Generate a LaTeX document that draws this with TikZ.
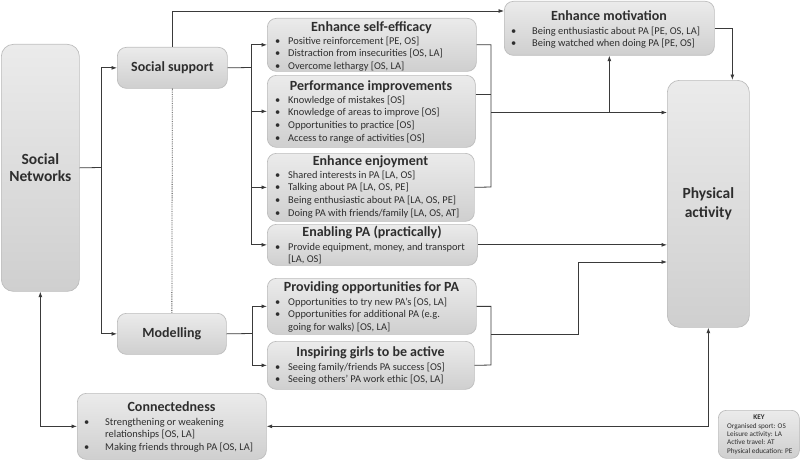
\documentclass[tikz,border=0pt]{standalone}
\usepackage{fontspec}
\setmainfont{Carlito}
\usetikzlibrary{arrows.meta,calc}
\definecolor{boxtop}{HTML}{EBEBEB}
\definecolor{boxbot}{HTML}{CFCFCF}
\definecolor{boxline}{HTML}{BDBDBD}
\definecolor{ink}{HTML}{2E2E2E}
\definecolor{wirec}{HTML}{3A3A3A}
\newcommand{\bl}[2][13pt]{\strut\makebox[#1][l]{\textbullet}#2}
\newcommand{\cl}[2][13pt]{\strut\hspace*{#1}#2}
\begin{document}
\begin{tikzpicture}[x=1pt,y=-1pt,
  box/.style={draw=boxline, line width=0.7pt, rounded corners=9pt, top color=boxtop, bottom color=boxbot, inner sep=0pt, anchor=north west},
  ttl/.style={font=\fontsize{14}{16}\selectfont\bfseries, text=ink, anchor=base, inner sep=0pt},
  lbl/.style={font=\fontsize{15}{17}\selectfont\bfseries, text=ink, align=center, inner sep=0pt},
  lst/.style={font=\fontsize{10.4}{12.6}\selectfont, text=ink, align=left, anchor=north west, inner sep=0pt},
  wire/.style={draw=wirec, line width=0.8pt},
  arr/.style={wire, -{Latex[length=5.5pt,width=4pt]}},
  darr/.style={wire, {Latex[length=5.5pt,width=4pt]}-{Latex[length=5.5pt,width=4pt]}}
]
\useasboundingbox (0,0) rectangle (800,460);

% boxes
\node[box, rounded corners=12pt, minimum width=78pt, minimum height=247pt] (SN) at (1,44) {};
\node[box, minimum width=110pt, minimum height=41pt] (SS) at (117,47) {};
\node[box, minimum width=109pt, minimum height=41pt] (MO) at (117,313) {};
\node[box, minimum width=209pt, minimum height=53pt] (SE) at (267,18) {};
\node[box, minimum width=208pt, minimum height=72pt] (PI) at (267,75) {};
\node[box, minimum width=207pt, minimum height=68pt] (EJ) at (267,153) {};
\node[box, minimum width=210pt, minimum height=41pt] (EN) at (267,224) {};
\node[box, minimum width=209pt, minimum height=56pt] (PO) at (267,278) {};
\node[box, minimum width=207pt, minimum height=48pt] (IG) at (267,341) {};
\node[box, minimum width=189pt, minimum height=66pt] (CO) at (77,393) {};
\node[box, minimum width=210pt, minimum height=54pt] (EM) at (504,1) {};
\node[box, rounded corners=12pt, minimum width=82pt, minimum height=247pt] (PA) at (667,80) {};
\node[box, rounded corners=8pt, minimum width=81pt, minimum height=48pt] (KY) at (718,410) {};

% main labels
\node[lbl, font=\fontsize{15.5}{16.5}\selectfont\bfseries] (tSN) at (SN.center) {Social\\Networks};
\node[lbl, font=\fontsize{14}{16}\selectfont\bfseries] (tSS) at (SS.center) {Social support};
\node[lbl, font=\fontsize{14}{16}\selectfont\bfseries] (tMO) at (MO.center) {Modelling};
\node[lbl, font=\fontsize{15.5}{19}\selectfont\bfseries] (tPA) at (PA.center) {Physical\\activity};

% titles
\node[ttl] (tSE) at (371.5,31.5) {Enhance self-efficacy};
\node[ttl] (tPI) at (371,90.5) {Performance improvements};
\node[ttl] (tEJ) at (370.5,165.5) {Enhance enjoyment};
\node[ttl] (tEN) at (372,236.5) {Enabling PA (practically)};
\node[ttl] (tPO) at (371.5,291.5) {Providing opportunities for PA};
\node[ttl] (tIG) at (370.5,356.5) {Inspiring girls to be active};
\node[ttl] (tCO) at (171.5,411.5) {Connectedness};
\node[ttl] (tEM) at (609,20.5) {Enhance motivation};

% lists
\node[lst] (lSE) at (275,35.2) {\bl{Positive reinforcement [PE, OS]}\\\bl{Distraction from insecurities [OS, LA]}\\\bl{Overcome lethargy [OS, LA]}};
\node[lst] (lPI) at (275,94.2) {\bl{Knowledge of mistakes [OS]}\\\bl{Knowledge of areas to improve [OS]}\\\bl{Opportunities to practice [OS]}\\\bl{Access to range of activities [OS]}};
\node[lst] (lEJ) at (275,169.2) {\bl{Shared interests in PA [LA, OS]}\\\bl{Talking about PA [LA, OS, PE]}\\\bl{Being enthusiastic about PA [LA, OS, PE]}\\\bl{Doing PA with friends/family [LA, OS, AT]}};
\node[lst] (lEN) at (275,241.2) {\bl{Provide equipment, money, and transport}\\\cl{[LA, OS]}};
\node[lst] (lPO) at (275,296.2) {\bl{Opportunities to try new PA’s [OS, LA]}\\\bl{Opportunities for additional PA (e.g.}\\\cl{going for walks) [OS, LA]}};
\node[lst] (lIG) at (275,361.2) {\bl{Seeing family/friends PA success [OS]}\\\bl{Seeing others’ PA work ethic [OS, LA]}};
\node[lst] (lCO) at (84,416.2) {\bl[21pt]{Strengthening or weakening}\\\cl[21pt]{relationships [OS, LA]}\\\bl[21pt]{Making friends through PA [OS, LA]}};
\node[lst] (lEM) at (511,25.2) {\bl[21pt]{Being enthusiastic about PA [PE, OS, LA]}\\\bl[21pt]{Being watched when doing PA [PE, OS]}};

% key
\node[font=\fontsize{7.2}{8.4}\selectfont\bfseries, text=ink, inner sep=0pt] (tKY) at (759,417) {KEY};
\node[lst, font=\fontsize{7.2}{8.4}\selectfont] (lKY) at (727,422.1) {\strut Organised sport: OS\\\strut Leisure activity: LA\\\strut Active travel: AT\\\strut Physical education: PE};

% connectors
\draw[wire] (SN.east) -- (101,167.5) coordinate (j1);
\draw[arr] (j1) |- (SS.west);
\draw[arr] (j1) |- (MO.west);
\draw[wire, densely dotted] (SS.south) -- (MO.north);
\draw[arr] (SS.north) |- (EM.west |- 0,11);

\draw[wire] (SS.east) -- (251,67.5) coordinate (b1);
\draw[arr] (b1) |- (SE.west);
\draw[arr] (b1) |- (PI.west);
\draw[arr] (b1) |- (EJ.west);
\draw[arr] (b1) |- (EN.west);

\draw[wire] (SE.east) -| (491,187) coordinate (b2bot) -- (EJ.east);
\draw[wire] (PI.east |- 0,94) -- (491,94);
\coordinate (b2) at (491,112.5);
\draw[arr] (b2) -- (b2 -| PA.west);
\draw[arr] (EM.south |- b2) -- (EM.south);

\draw[arr] (EN.east) -- (EN.east -| PA.west);

\draw[wire] (MO.east) -- (252,333.5) coordinate (b4);
\draw[arr] (b4) |- (PO.west);
\draw[arr] (b4) |- (IG.west);

\draw[wire] (PO.east) -| (491,365) -- (IG.east);
\coordinate (b3) at (491,334);
\draw[arr] (b3) -| (578,262) -- (PA.west |- 0,262);

\draw[arr] (EM.east) -| ([xshift=24pt]PA.north);
\draw[darr] (CO.east) -| (PA.south);
\draw[darr] (SN.south) |- (CO.west);
\end{tikzpicture}
\end{document}
